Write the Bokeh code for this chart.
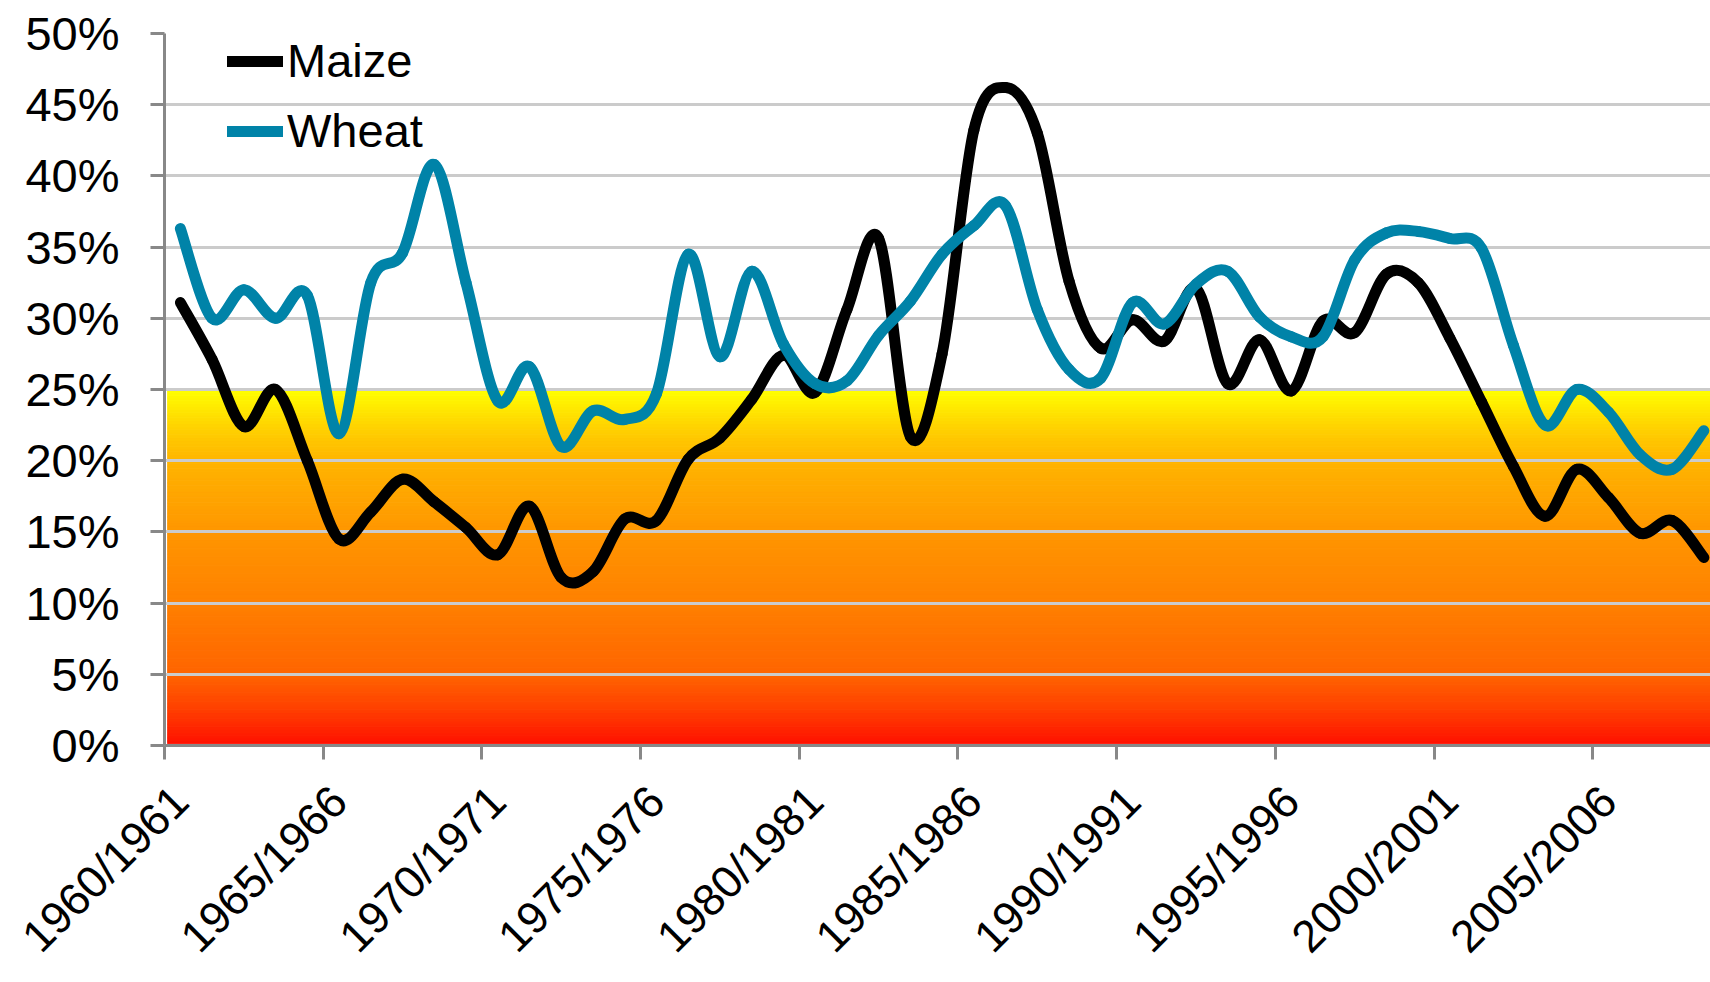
import math
import numpy as np
from bokeh.plotting import figure
from bokeh.models import (Range1d, FixedTicker, PrintfTickFormatter, Legend,
                          LegendItem, ColumnDataSource)
from bokeh.embed import file_html
from bokeh.resources import INLINE

# ---- data -------------------------------------------------------------
seasons = [f"{y}/{y + 1}" for y in range(1960, 2009)]

maize = [31.1, 27.1, 22.4, 25.0, 20.0, 14.5, 16.4, 18.7, 17.1, 15.3,
         13.4, 16.8, 11.8, 12.2, 15.9, 15.8, 20.1, 21.6, 24.3, 27.4,
         24.8, 30.6, 35.6, 21.7, 27.5, 43.2, 46.2, 43.0, 32.6, 27.9,
         29.9, 28.4, 32.1, 25.4, 28.5, 24.9, 29.8, 29.0, 33.1, 32.5,
         28.6, 24.1, 19.6, 16.1, 19.4, 17.4, 14.9, 15.8, 13.2]

wheat = [36.3, 30.0, 32.0, 30.0, 31.6, 21.9, 32.5, 34.6, 40.8, 32.5,
         24.2, 26.6, 21.0, 23.5, 22.9, 24.7, 34.5, 27.3, 33.3, 28.2,
         25.4, 25.6, 28.8, 31.2, 34.5, 36.5, 37.9, 30.6, 26.4, 25.8,
         31.1, 29.6, 32.4, 33.3, 30.1, 28.7, 28.7, 34.1, 36.0, 36.1,
         35.6, 34.9, 28.1, 22.5, 25.0, 23.4, 20.4, 19.4, 22.1]

y_ticks = [0, 5, 10, 15, 20, 25, 30, 35, 40, 45, 50]
label_every = 5
band_top = 25  # upper limit of the warning band (%)

# ---- styling ----------------------------------------------------------
FONT = "Liberation Sans"
FONT_SIZE = "47px"
X_FONT_SIZE = "45px"
AXIS_GREY = "#888888"
GRID_GREY = "#CBCBCB"
MAIZE_COLOR = "#000000"
WHEAT_COLOR = "#0083A8"
LINE_W = 11

band_stops = [(0.0, (255, 14, 0)), (2.5, (255, 62, 0)), (5.0, (255, 100, 0)),
              (10.0, (255, 128, 0)), (15.0, (255, 150, 0)), (20.0, (255, 180, 0)),
              (22.5, (255, 212, 0)), (25.0, (255, 255, 0))]


def band_color(v):
    for (a, ca), (b, cb) in zip(band_stops[:-1], band_stops[1:]):
        if a <= v <= b:
            t = (v - a) / (b - a)
            c = [round(ca[k] + (cb[k] - ca[k]) * t) for k in range(3)]
            return "#%02x%02x%02x" % tuple(c)
    return "#ffff00"


def smooth_segments(xs, ys):
    """Cubic Bezier pieces through every point (Catmull-Rom style)."""
    x = np.asarray(xs, float)
    y = np.asarray(ys, float)
    xp = np.concatenate([[x[0]], x, [x[-1]]])
    yp = np.concatenate([[y[0]], y, [y[-1]]])
    x0, y0, x1, y1 = x[:-1], y[:-1], x[1:], y[1:]
    cx0 = x0 + (x1 - xp[:-3]) / 6.0
    cy0 = y0 + (y1 - yp[:-3]) / 6.0
    cx1 = x1 - (xp[3:] - x0) / 6.0
    cy1 = y1 - (yp[3:] - y0) / 6.0
    return ColumnDataSource(dict(x0=x0, y0=y0, x1=x1, y1=y1,
                                 cx0=cx0, cy0=cy0, cx1=cx1, cy1=cy1))


n = len(seasons)
xc = np.arange(n) + 0.5  # category centres

p = figure(width=1710, height=982,
           x_range=Range1d(0, 48.71), y_range=Range1d(0, 50),
           output_backend="svg", toolbar_location=None,
           min_border_left=164, min_border_right=0,
           min_border_top=33, min_border_bottom=234)
p.background_fill_color = "white"
p.border_fill_color = "white"
p.outline_line_color = None

# warning band 0-25 %, drawn as thin horizontal strips beneath the grid
edges = np.linspace(0.12, band_top, 126)
mids = (edges[:-1] + edges[1:]) / 2
cols = [band_color(v) for v in mids]
p.quad(left=0.1, right=n + 1, bottom=edges[:-1], top=edges[1:],
       fill_color=cols, line_color=cols, line_width=1, level="image")

# series
r_maize = p.bezier(x0="x0", y0="y0", x1="x1", y1="y1", cx0="cx0", cy0="cy0",
                   cx1="cx1", cy1="cy1", source=smooth_segments(xc, maize),
                   line_color=MAIZE_COLOR, line_width=LINE_W, line_cap="round")
r_wheat = p.bezier(x0="x0", y0="y0", x1="x1", y1="y1", cx0="cx0", cy0="cy0",
                   cx1="cx1", cy1="cy1", source=smooth_segments(xc, wheat),
                   line_color=WHEAT_COLOR, line_width=LINE_W, line_cap="round")

# grid
p.xgrid.visible = False
p.ygrid.ticker = FixedTicker(ticks=y_ticks)
p.ygrid.grid_line_color = GRID_GREY
p.ygrid.grid_line_width = 3

# y axis
ya = p.yaxis[0]
ya.ticker = FixedTicker(ticks=y_ticks)
ya.formatter = PrintfTickFormatter(format="%d%%")
ya.axis_line_color = AXIS_GREY
ya.axis_line_width = 3
ya.major_tick_line_color = AXIS_GREY
ya.major_tick_line_width = 3
ya.major_tick_out = 14
ya.major_tick_in = 0
ya.minor_tick_line_color = None
ya.major_label_standoff = 31
ya.major_label_text_font = FONT
ya.major_label_text_font_size = FONT_SIZE
ya.major_label_text_color = "black"

# x axis: labels on category centres, tick marks on category borders
label_idx = list(range(0, n, label_every))
xa = p.xaxis[0]
xa.ticker = FixedTicker(ticks=[i + 0.5 for i in label_idx],
                        minor_ticks=[float(i) for i in label_idx])
xa.major_label_overrides = {i + 0.5: seasons[i] for i in label_idx}
xa.major_label_orientation = math.pi / 4
xa.axis_line_color = AXIS_GREY
xa.axis_line_width = 3
xa.major_tick_out = 0
xa.major_tick_in = 0
xa.major_tick_line_color = None
xa.minor_tick_line_color = AXIS_GREY
xa.minor_tick_line_width = 3
xa.minor_tick_out = 14
xa.minor_tick_in = 0
xa.major_label_standoff = 34
xa.major_label_text_font = FONT
xa.major_label_text_font_size = X_FONT_SIZE
xa.major_label_text_color = "black"

# legend (location is its lower-left corner, measured from the frame's lower-left)
legend = Legend(items=[LegendItem(label="Maize", renderers=[r_maize]),
                       LegendItem(label="Wheat", renderers=[r_wheat])],
                location=(63, 587), orientation="vertical")
legend.label_text_font = FONT
legend.label_text_font_size = FONT_SIZE
legend.label_text_color = "black"
legend.glyph_width = 56
legend.glyph_height = 54
legend.label_height = 54
legend.label_standoff = 4
legend.spacing = 15
legend.padding = 0
legend.margin = 0
legend.border_line_color = None
legend.background_fill_alpha = 0
p.add_layout(legend)

open("out.html", "w").write(file_html(p, INLINE))
